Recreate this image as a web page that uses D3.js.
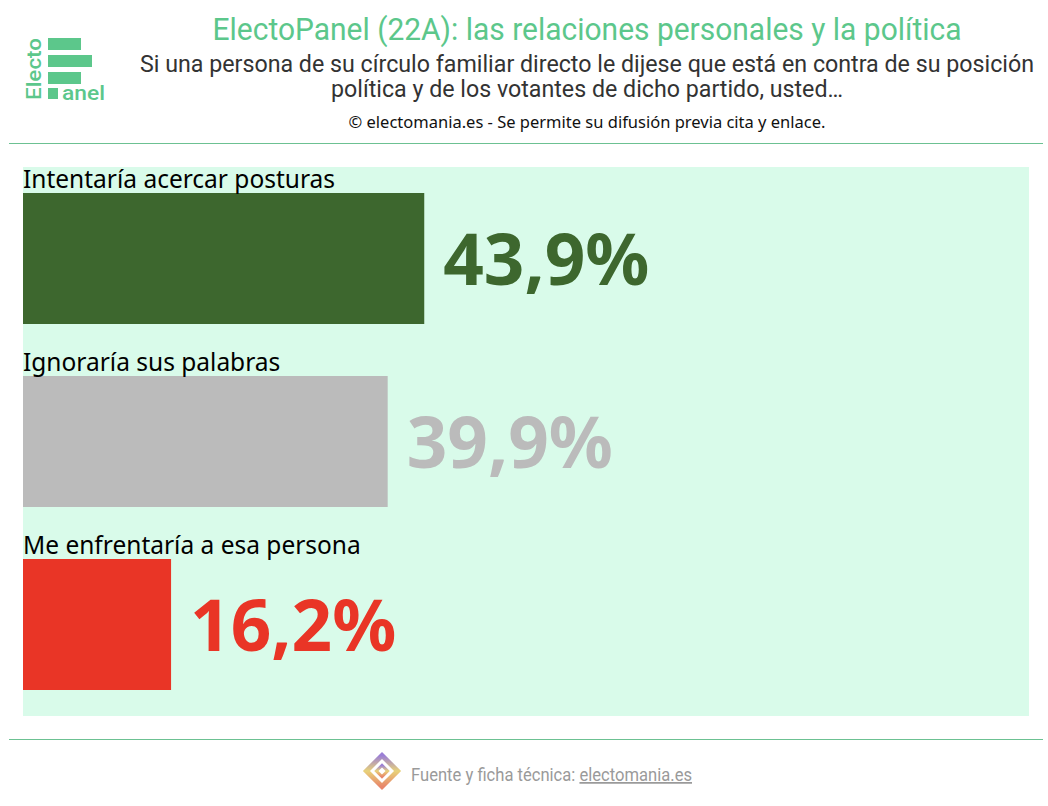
<!DOCTYPE html>
<html><head><meta charset="utf-8">
<script src="https://cdn.jsdelivr.net/npm/d3@7"></script>
<style>body{margin:0;background:#fff}svg{display:block}</style>
</head><body><svg id="c" width="1048" height="806"></svg>
<script>
const categories = ["Intentaría acercar posturas", "Ignoraría sus palabras", "Me enfrentaría a esa persona"];
const values = [43.9, 39.9, 16.2];
const valueLabels = ["43,9%", "39,9%", "16,2%"];
const colors = ["#3d672e", "#bbbbbb", "#e93526"];

const svg = d3.select("#c");
const green = "#5cc78b";

// Header
svg.append("text").attr("x", 587).attr("y", 40).attr("text-anchor", "middle")
  .attr("font-family", "Roboto").attr("font-size", 31).attr("fill", green)
  .attr("textLength", 749).attr("lengthAdjust", "spacingAndGlyphs")
  .text("ElectoPanel (22A): las relaciones personales y la política");
svg.append("text").attr("x", 587).attr("y", 72).attr("text-anchor", "middle")
  .attr("font-family", "Roboto").attr("font-size", 23).attr("fill", "#333")
  .attr("textLength", 894).attr("lengthAdjust", "spacingAndGlyphs")
  .text("Si una persona de su círculo familiar directo le dijese que está en contra de su posición");
svg.append("text").attr("x", 587).attr("y", 97).attr("text-anchor", "middle")
  .attr("font-family", "Roboto").attr("font-size", 23).attr("fill", "#333")
  .attr("textLength", 512).attr("lengthAdjust", "spacingAndGlyphs")
  .text("política y de los votantes de dicho partido, usted…");
svg.append("text").attr("x", 587).attr("y", 128).attr("text-anchor", "middle")
  .attr("font-family", "Noto Sans").attr("font-size", 16.5).attr("fill", "#111")
  .text("© electomania.es - Se permite su difusión previa cita y enlace.");

// Logo
const logo = svg.append("g").attr("fill", green);
logo.append("text").attr("transform", "translate(41,100) rotate(-90)")
  .attr("font-family", "Roboto").attr("font-weight", "500").attr("font-size", 20)
  .attr("textLength", 62).attr("lengthAdjust", "spacingAndGlyphs").text("Electo");
logo.append("rect").attr("x", 48).attr("y", 38).attr("width", 33).attr("height", 12);
logo.append("rect").attr("x", 48).attr("y", 55).attr("width", 44).attr("height", 12);
logo.append("rect").attr("x", 48).attr("y", 72).attr("width", 33).attr("height", 12);
logo.append("rect").attr("x", 48).attr("y", 88).attr("width", 10).attr("height", 11);
logo.append("text").attr("x", 62).attr("y", 100)
  .attr("font-family", "Roboto").attr("font-weight", "500").attr("font-size", 21)
  .attr("textLength", 43).attr("lengthAdjust", "spacingAndGlyphs").text("anel");

// separators
svg.append("line").attr("x1", 9).attr("x2", 1043).attr("y1", 143.5).attr("y2", 143.5).attr("stroke", "#6cc192").attr("stroke-width", 1);
svg.append("line").attr("x1", 9).attr("x2", 1043).attr("y1", 739.5).attr("y2", 739.5).attr("stroke", "#6cc192").attr("stroke-width", 1);

// Panel
const x = d3.scaleLinear().domain([0, 100]).range([23, 937]);
const y = d3.scaleBand().domain(categories).range([167, 716]);
svg.append("rect").attr("x", 23).attr("y", 167).attr("width", 1006).attr("height", 549).attr("fill", "#d9fbea");

const g = svg.append("g").selectAll("g").data(categories).join("g");
g.append("rect").attr("x", x(0)).attr("y", d => y(d) + 26)
  .attr("width", (d, i) => x(values[i]) - x(0)).attr("height", 131)
  .attr("fill", (d, i) => colors[i]);
g.append("text").attr("x", x(0)).attr("y", d => y(d) + 21)
  .attr("font-family", "Noto Sans").attr("font-size", 24.5).attr("fill", "#000")
  .text(d => d);
g.append("text").attr("x", (d, i) => x(values[i]) + 19).attr("y", d => y(d) + 118)
  .attr("font-family", "Noto Sans").attr("font-weight", "bold").attr("font-size", 71)
  .attr("fill", (d, i) => colors[i]).text((d, i) => valueLabels[i]);

// Footer
const defs = svg.append("defs");
const lg = defs.append("linearGradient").attr("id", "lg").attr("x1", "0").attr("y1", "0").attr("x2", "1").attr("y2", "1");
lg.append("stop").attr("offset", "0").attr("stop-color", "#9b7fd6");
lg.append("stop").attr("offset", "0.5").attr("stop-color", "#e8d27a");
lg.append("stop").attr("offset", "1").attr("stop-color", "#e8866a");
const ic = svg.append("g").attr("transform", "translate(382,771) rotate(45)");
ic.append("rect").attr("x", -11).attr("y", -11).attr("width", 22).attr("height", 22).attr("fill", "none").attr("stroke", "url(#lg)").attr("stroke-width", 5);
ic.append("rect").attr("x", -4).attr("y", -4).attr("width", 8).attr("height", 8).attr("fill", "none").attr("stroke", "url(#lg)").attr("stroke-width", 3);
svg.append("text").attr("x", 411).attr("y", 781)
  .attr("font-family", "Roboto").attr("font-size", 17.5).attr("fill", "#9a9a9a")
  .attr("textLength", 281).attr("lengthAdjust", "spacingAndGlyphs")
  .html('Fuente y ficha técnica: <tspan text-decoration="underline">electomania.es</tspan>');
</script></body></html>
